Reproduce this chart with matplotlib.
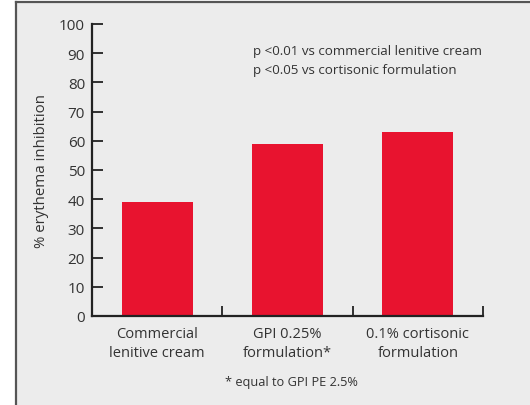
import matplotlib
matplotlib.use("Agg")
import matplotlib.pyplot as plt
from matplotlib.patches import Rectangle
from matplotlib.lines import Line2D

categorias = ["Commercial\nlenitive cream", "GPI 0.25%\nformulation*", "0.1% cortisonic\nformulation"]
valores = [39, 59, 63]
ticks_y = [0, 10, 20, 30, 40, 50, 60, 70, 80, 90, 100]
notas = ["p <0.01 vs commercial lenitive cream", "p <0.05 vs cortisonic formulation"]
pie = "* equal to GPI PE 2.5%"

plt.rcParams["font.family"] = ["Open Sans", "DejaVu Sans"]
texto = "#333333"
rojo = "#e8132f"
fondo = "#ececec"

W, H = 530, 406
fig = plt.figure(figsize=(W / 100, H / 100), dpi=100, facecolor="white")

# panel gris con borde
fig.patches.append(Rectangle((16 / W, 0), 1 - 16 / W, 1 - 3 / H, transform=fig.transFigure,
                             facecolor=fondo, edgecolor="none", zorder=-5))
fig.lines.append(Line2D([16 / W, 16 / W], [0, 1 - 3 / H], transform=fig.transFigure,
                        color="#555555", lw=1.6, zorder=-4))
fig.lines.append(Line2D([16 / W, 1], [1 - 3 / H, 1 - 3 / H], transform=fig.transFigure,
                        color="#555555", lw=1.6, zorder=-4))

ax = fig.add_axes([92 / W, (H - 317) / H, (483 - 92) / W, (317 - 25) / H])
ax.set_facecolor("none")

x = range(len(categorias))
ax.bar(x, valores, width=0.545, color=rojo, zorder=2)

ax.set_xlim(-0.5, 2.5)
ax.set_ylim(0, 100)
ax.set_yticks(ticks_y)
ax.tick_params(axis="y", direction="in", length=8, width=1.3, color="#222222",
               labelsize=11, labelcolor=texto, pad=5)
ax.set_xticks(list(x))
ax.set_xticklabels(categorias, fontsize=10.5, color=texto, linespacing=1.35)
ax.tick_params(axis="x", length=0, pad=7)
ax.set_xticks([0.5, 1.5, 2.5], minor=True)
ax.tick_params(axis="x", which="minor", direction="in", length=7, width=1.3, color="#222222")

for lado in ["top", "right"]:
    ax.spines[lado].set_visible(False)
for lado in ["left", "bottom"]:
    ax.spines[lado].set_linewidth(1.6)
    ax.spines[lado].set_color("#222222")

ax.set_ylabel("% erythema inhibition", fontsize=10.8, color=texto, labelpad=7)

fig.text(253 / W, 1 - 52 / H, notas[0], fontsize=9.6, color=texto, va="center", ha="left")
fig.text(253 / W, 1 - 71 / H, notas[1], fontsize=9.6, color=texto, va="center", ha="left")
fig.text(291 / W, 1 - 383 / H, pie, fontsize=9.2, color=texto, va="center", ha="center")

fig.savefig("out.png", dpi=100, facecolor=fig.get_facecolor())
